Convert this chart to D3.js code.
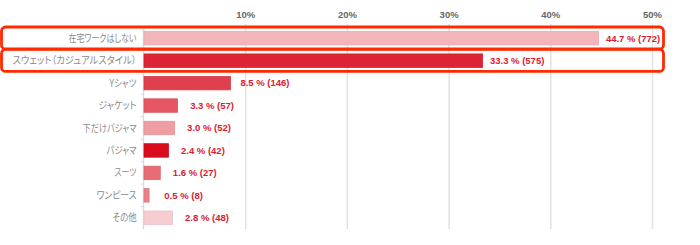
<!DOCTYPE html>
<html>
<head>
<meta charset="utf-8">
<script src="https://cdn.jsdelivr.net/npm/d3@7/dist/d3.min.js"></script>
<style>
  body { margin: 0; background: #fff; }
  svg { display: block; }
</style>
</head>
<body>
<svg id="chart"></svg>
<script>
const categories = ["在宅ワークはしない", "スウェット（カジュアルスタイル）", "Yシャツ", "ジャケット", "下だけパジャマ", "パジャマ", "スーツ", "ワンピース", "その他"];
const percents = [44.7, 33.3, 8.5, 3.3, 3.0, 2.4, 1.6, 0.5, 2.8];
const counts = [772, 575, 146, 57, 52, 42, 27, 8, 48];
const barColors = ["#f2b5b9", "#dc2434", "#e0404e", "#e55863", "#ef9ca3", "#d80c1c", "#e86c74", "#ec8087", "#f6ced1"];
const tickValues = [10, 20, 30, 40, 50];
const highlighted = [0, 1];

const W = 700, H = 245;
const margin = { top: 27, right: 48, bottom: 16, left: 143.5 };

let svg = d3.select('#chart')
    .attr('width', W)
    .attr('height', H);

let x = d3.scaleLinear()
    .domain([0, 50])
    .range([margin.left, 652]);

let y = d3.scaleBand()
    .domain(categories)
    .range([margin.top, H - margin.bottom])
    .paddingInner(0.4)
    .paddingOuter(0.2);

// gridlines + top tick labels
let grid = svg.append('g')
    .attr('transform', `translate(0, ${24})`)
    .call(d3.axisTop(x).tickValues(tickValues).tickFormat(d => d + '%').tickSize(-(H - margin.bottom - 24)));
grid.select('.domain').remove();
grid.selectAll('.tick line').attr('stroke', '#e2e2e2').attr('stroke-width', 1.5);
grid.selectAll('.tick text')
    .attr('y', -6)
    .attr('fill', '#666')
    .style('font', 'bold 9.5px Arial, "Liberation Sans", sans-serif');

// left axis line with small ticks between rows
let yAxis = svg.append('g')
    .attr('transform', `translate(${margin.left}, 0)`);
yAxis.append('line')
    .attr('x1', 0).attr('x2', 0)
    .attr('y1', margin.top).attr('y2', H - margin.bottom)
    .attr('stroke', '#d6dce6').attr('stroke-width', 1.5);
yAxis.selectAll('.sep')
    .data(categories.slice(1))
    .enter().append('line')
    .attr('class', 'sep')
    .attr('x1', -3).attr('x2', 0)
    .attr('y1', d => y(d) - y.step() * y.paddingInner() / 2)
    .attr('y2', d => y(d) - y.step() * y.paddingInner() / 2)
    .attr('stroke', '#d6dce6');

// bars
svg.selectAll('rect.bar')
    .data(categories)
    .enter().append('rect')
    .attr('class', 'bar')
    .attr('x', x(0) + 0.5)
    .attr('y', d => y(d))
    .attr('width', (d, i) => x(percents[i]) - x(0))
    .attr('height', y.bandwidth())
    .attr('fill', (d, i) => barColors[i])
    .attr('stroke', (d, i) => d3.color(barColors[i]).darker(0.15))
    .attr('stroke-width', 0.8);

// category labels (proportional kana so the long label fits like the original)
svg.selectAll('text.cat')
    .data(categories)
    .enter().append('text')
    .attr('class', 'cat')
    .attr('x', margin.left - 7)
    .attr('y', d => y(d) + y.bandwidth() / 2)
    .attr('dy', '0.35em')
    .attr('text-anchor', 'end')
    .attr('fill', '#8a8a8a')
    .style('font', '10px "Noto Sans CJK JP", sans-serif')
    .style('font-feature-settings', '"palt" 1')
    .text(d => d);

// squeeze any label that is still wider than the reference
const maxW = [68, 124, 27, 38, 54, 30, 22, 40, 24];
svg.selectAll('text.cat').each(function (d, i) {
    let w = this.getComputedTextLength();
    if (w > maxW[i] + 2) {
        d3.select(this).attr('textLength', maxW[i]).attr('lengthAdjust', 'spacingAndGlyphs');
    }
});

// value labels
svg.selectAll('text.val')
    .data(categories)
    .enter().append('text')
    .attr('class', 'val')
    .attr('x', (d, i) => x(percents[i]) + 35)
    .attr('y', d => y(d) + y.bandwidth() / 2)
    .attr('dy', '0.35em')
    .attr('text-anchor', 'middle')
    .attr('fill', '#d9202f')
    .style('font', 'bold 9.5px Arial, "Liberation Sans", sans-serif')
    .text((d, i) => `${percents[i].toFixed(1)} % (${counts[i]})`);

// red highlight boxes
svg.selectAll('rect.hl')
    .data(highlighted)
    .enter().append('rect')
    .attr('class', 'hl')
    .attr('x', 1.5)
    .attr('y', i => y(categories[i]) - 4.5)
    .attr('width', 662)
    .attr('height', i => y.bandwidth() + 8.5)
    .attr('rx', 4)
    .attr('fill', 'none')
    .attr('stroke', '#ff2a00')
    .attr('stroke-width', 2.8);
</script>
</body>
</html>
